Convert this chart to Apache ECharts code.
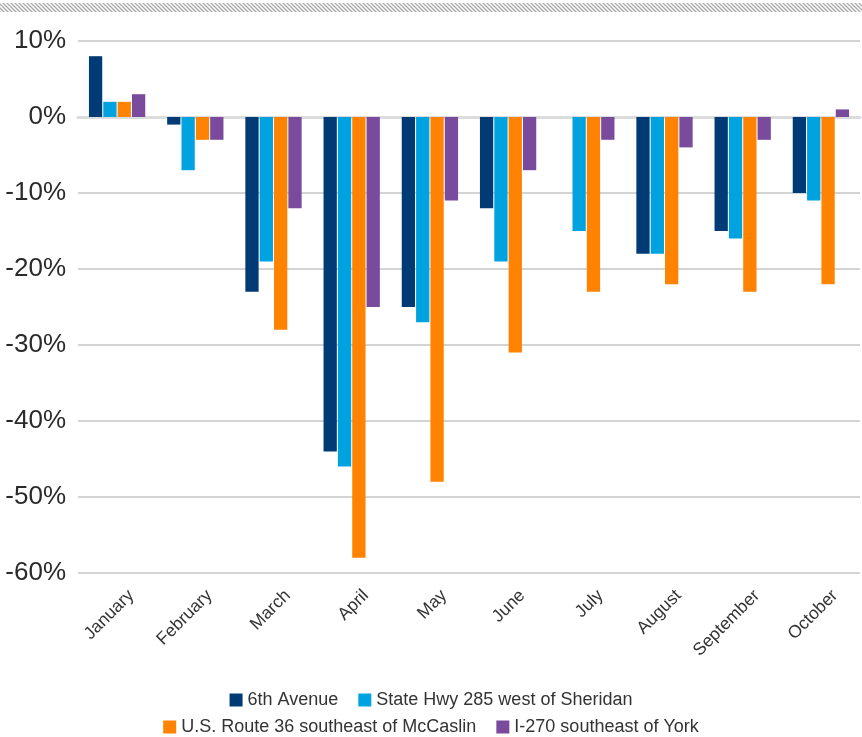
<html>
<head>
    <meta charset="utf-8">
</head>
<body style="margin:0">
    <script src="https://cdn.jsdelivr.net/npm/echarts@6/dist/echarts.min.js"></script>
    <div id="main" style="width: 862px;height: 737px"></div>
    <script>

var months = ['January', 'February', 'March', 'April', 'May', 'June', 'July', 'August', 'September', 'October'];
var sixthAve = [8, -1, -23, -44, -25, -12, 0, -18, -15, -10];
var hwy285 = [2, -7, -19, -46, -27, -19, -15, -18, -16, -11];
var route36 = [2, -3, -28, -58, -48, -31, -23, -22, -23, -22];
var i270 = [3, -3, -12, -25, -11, -7, -3, -4, -3, 1];

var names = ['6th Avenue', 'State Hwy 285 west of Sheridan', 'U.S. Route 36 southeast of McCaslin', 'I-270 southeast of York'];
var colors = ['#003b75', '#00a3e0', '#ff8200', '#7a4b9c'];

// hatched strip at the top
var hatch = document.createElement('canvas');
hatch.width = 4; hatch.height = 4;
var hc = hatch.getContext('2d');
hc.strokeStyle = '#a8a8a8';
hc.lineWidth = 1.3;
hc.beginPath();
hc.moveTo(-1, -1); hc.lineTo(5, 5);
hc.moveTo(3, -1); hc.lineTo(5, 1);
hc.moveTo(-1, 3); hc.lineTo(1, 5);
hc.stroke();

var myChart = echarts.init(document.getElementById('main'));

var legendText = { color: '#333', fontSize: 18, fontFamily: 'Liberation Sans' };

option = {
    animation: false,
    textStyle: { fontFamily: 'Liberation Sans' },
    graphic: [{
        type: 'rect',
        shape: { x: 0, y: 3, width: 862, height: 9 },
        style: { fill: { image: hatch, repeat: 'repeat' } }
    }],
    legend: [{
        data: [names[0], names[1]],
        bottom: 23,
        itemWidth: 13,
        itemHeight: 13,
        itemGap: 20,
        icon: 'rect',
        textStyle: legendText
    }, {
        data: [names[2], names[3]],
        bottom: -4,
        itemWidth: 13,
        itemHeight: 13,
        itemGap: 20,
        icon: 'rect',
        textStyle: legendText
    }],
    grid: { left: 78, right: 2, top: 41, bottom: 164 },
    xAxis: {
        type: 'category',
        data: months,
        axisLine: { show: true, lineStyle: { color: '#dcdcdc', width: 3 } },
        axisTick: { show: false },
        axisLabel: {
            rotate: 45,
            fontSize: 17.5,
            color: '#333',
            margin: 34,
            padding: [34, -20, 0, 0],
            interval: 0
        }
    },
    yAxis: {
        type: 'value',
        min: -60,
        max: 10,
        interval: 10,
        axisLabel: {
            formatter: '{value}%',
            fontSize: 26,
            color: '#2a2a2a',
            margin: 12
        },
        splitLine: { lineStyle: { color: '#c4c4c4', width: 1.5 } }
    },
    series: [
        { name: names[0], type: 'bar', data: sixthAve, itemStyle: { color: colors[0] }, barGap: '8%', barCategoryGap: '28%' },
        { name: names[1], type: 'bar', data: hwy285, itemStyle: { color: colors[1] }, barGap: '8%', barCategoryGap: '28%' },
        { name: names[2], type: 'bar', data: route36, itemStyle: { color: colors[2] }, barGap: '8%', barCategoryGap: '28%' },
        { name: names[3], type: 'bar', data: i270, itemStyle: { color: colors[3] }, barGap: '8%', barCategoryGap: '28%' }
    ]
};

myChart.setOption(option);

</script>
</body>
</html>
